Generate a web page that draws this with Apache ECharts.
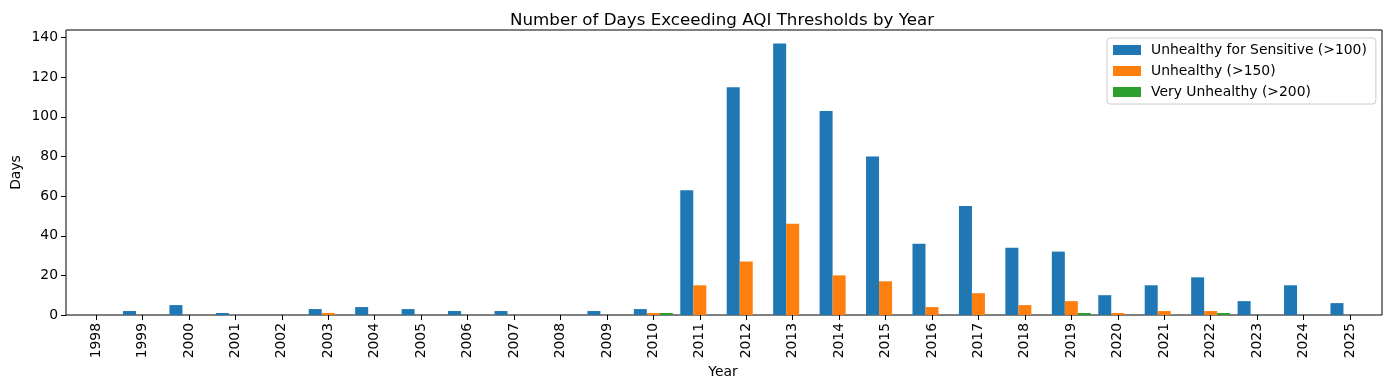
<!DOCTYPE html>
<html>
<head>
<meta charset="utf-8">
<script src="https://cdn.jsdelivr.net/npm/echarts@6/dist/echarts.min.js"></script>
<style>
html,body{margin:0;padding:0;background:#fff;}
#chart{width:1389px;height:390px;}
</style>
</head>
<body>
<div id="chart"></div>
<script>
const years = ['1998','1999','2000','2001','2002','2003','2004','2005','2006','2007','2008','2009','2010','2011','2012','2013','2014','2015','2016','2017','2018','2019','2020','2021','2022','2023','2024','2025'];
const sensitive = [0,2,5,1,0,3,4,3,2,2,0,2,3,63,115,137,103,80,36,55,34,32,10,15,19,7,15,6];
const unhealthy = [0,0,0,0,0,1,0,0,0,0,0,0,1,15,27,46,20,17,4,11,5,7,1,2,2,0,0,0];
const veryUnhealthy = [0,0,0,0,0,0,0,0,0,0,0,0,1,0,0,0,0,0,0,0,0,1,0,0,1,0,0,0];
const yTicks = [0,20,40,60,80,100,120,140];
const seriesNames = ['Unhealthy for Sensitive (>100)','Unhealthy (>150)','Very Unhealthy (>200)'];
const colors = ['#1f77b4','#ff7f0e','#2ca02c'];

const YMAX = 143.85;
const FONT = 'DejaVu Sans';
const chart = echarts.init(document.getElementById('chart'), null, {renderer:'canvas'});
const mk = (name, data, color) => ({
  name, type:'bar', data, xAxisIndex:0, yAxisIndex:0, barWidth:13, barGap:'0%',
  itemStyle:{color}, emphasis:{disabled:true}, animation:false
});
chart.setOption({
  animation:false,
  backgroundColor:'#fff',
  title:{text:'Number of Days Exceeding AQI Thresholds by Year', left:717, textAlign:'center', top:7,
    textStyle:{fontFamily:FONT, fontSize:16.7, fontWeight:'normal', color:'#000'}},
  legend:{
    orient:'vertical', left:1107, top:38, itemWidth:28, itemHeight:10, itemGap:7,
    padding:[5,9,5,6], borderColor:'#ccc', borderWidth:1, borderRadius:3, backgroundColor:'rgba(255,255,255,0.8)',
    icon:'rect', data:seriesNames,
    textStyle:{fontFamily:FONT, fontSize:13.9, color:'#000', padding:[0,0,0,5]}
  },
  grid:[
    {left:72.8, width:1300.4, top:30, height:285, containLabel:false, outerBoundsMode:'none'},
    {left:66, width:1316, top:30, height:285, show:true, borderColor:'#000', borderWidth:1, backgroundColor:'transparent', containLabel:false, outerBoundsMode:'none'}
  ],
  xAxis:[
    {type:'category', gridIndex:0, data:years, boundaryGap:true,
      axisLine:{show:false}, axisTick:{show:true, alignWithLabel:true, length:5, lineStyle:{color:'#000'}},
      axisLabel:{rotate:90, interval:0, margin:8, fontFamily:FONT, fontSize:13.9, color:'#000'},
      name:'Year', nameLocation:'middle', nameGap:50, nameMoveOverlap:false, nameTextStyle:{fontFamily:FONT, fontSize:13.9, color:'#000'}},
    {type:'value', gridIndex:1, min:0, max:1, axisLine:{show:false}, axisTick:{show:false}, axisLabel:{show:false}, splitLine:{show:false}}
  ],
  yAxis:[
    {type:'value', gridIndex:0, min:0, max:YMAX, show:false, splitLine:{show:false}},
    {type:'value', gridIndex:1, min:0, max:YMAX, interval:20,
      axisLine:{show:false}, splitLine:{show:false},
      axisTick:{show:true, length:5, lineStyle:{color:'#000'}, customValues:yTicks},
      axisLabel:{fontFamily:FONT, fontSize:13.9, color:'#000', margin:8, customValues:yTicks},
      name:'Days', nameLocation:'middle', nameGap:43, nameMoveOverlap:false, nameTextStyle:{fontFamily:FONT, fontSize:13.9, color:'#000'}}
  ],
  series:[
    mk(seriesNames[0], sensitive, colors[0]),
    mk(seriesNames[1], unhealthy, colors[1]),
    mk(seriesNames[2], veryUnhealthy, colors[2])
  ]
});
</script>
</body>
</html>
